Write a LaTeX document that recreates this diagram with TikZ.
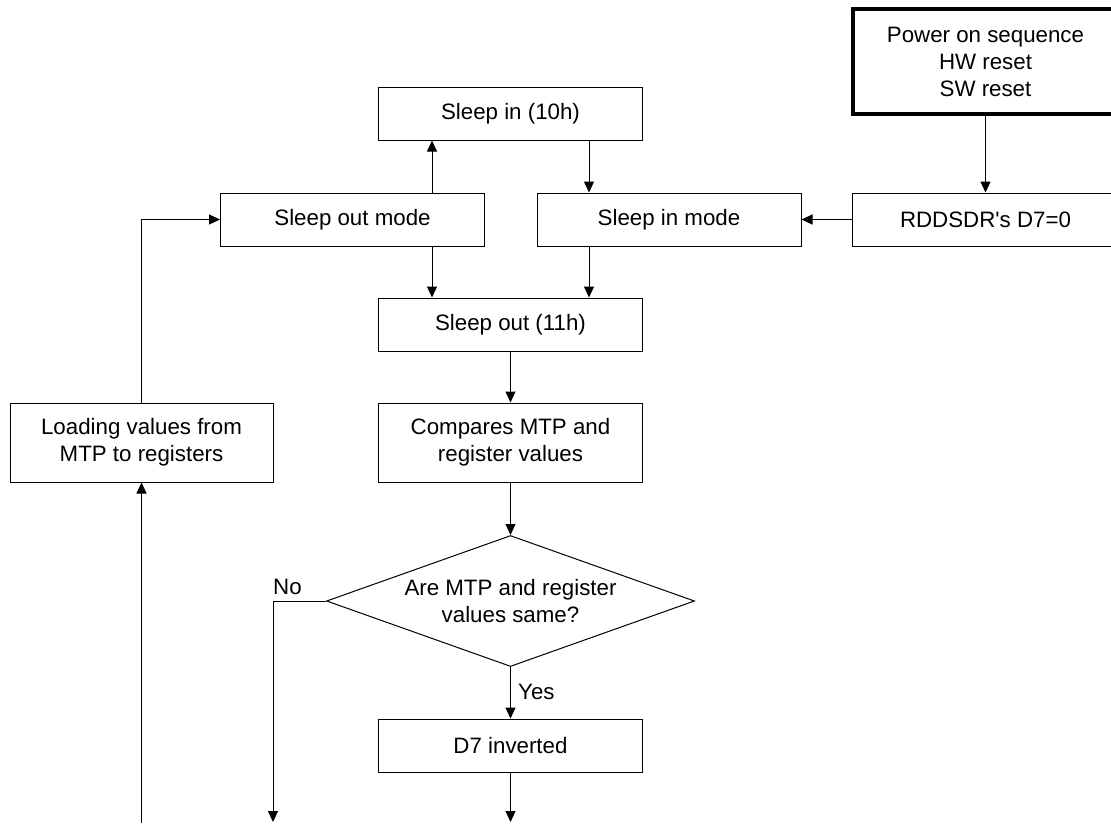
\documentclass[tikz,border=0pt]{standalone}
\usepackage{fontspec}
\setmainfont{Liberation Sans}[Ligatures=TeXOff]
\usetikzlibrary{shapes.geometric,arrows.meta}
\begin{document}
\begin{tikzpicture}[x=1pt,y=-1pt,
  every node/.style={font=\fontsize{22.3}{27}\selectfont},
  box/.style={draw, line width=1pt, minimum width=264pt, minimum height=53pt, inner sep=0pt, align=center},
  tallbox/.style={box, minimum height=79pt},
  arr/.style={line width=1pt, -{Triangle[length=11pt,width=10pt]}},
  lbl/.style={inner sep=0pt, anchor=west}]
\useasboundingbox (0,0) rectangle (1111,823);

% nodes
\node[box, line width=4pt, minimum width=266pt, minimum height=105pt] (pwr) at (985.5,61.5) {Power on sequence\\HW reset\\SW reset};
\node[box, minimum width=266pt] (rdd) at (985.5,219.5) {RDDSDR's D7=0};
\node[box] (si10) at (510.5,113.5) {Sleep in (10h)};
\node[box] (som) at (352.5,219.5) {Sleep out mode};
\node[box] (sim) at (669,219.5) {Sleep in mode};
\node[box] (so11) at (510.5,324.5) {Sleep out (11h)};
\node[tallbox] (cmp) at (510.5,442.5) {Compares MTP and\\register values};
\node[tallbox, minimum width=263pt] (ld) at (141.5,442.5) {Loading values from\\MTP to registers};
\node[diamond, draw, line width=1pt, minimum width=368pt, minimum height=131pt, inner sep=0pt, aspect=2.8] (dec) at (510.5,601) {};
\node[align=center, inner sep=0pt] (dectxt) at (dec.center) {Are MTP and register\\values same?};
\node[box] (d7) at (510.5,745.5) {D7 inverted};

% helper coordinates
\coordinate (cL) at (432,0);
\coordinate (cR) at (589,0);
\coordinate (noX) at (273,601);
\coordinate (noEnd) at (273,822);
\coordinate (d7End) at (510.5,822);
\coordinate (ldStart) at (141.5,823);

% labels
\node[lbl] (nolbl) at (273,587) {No};
\node[lbl] (yeslbl) at (518,692) {Yes};

% connectors
\draw[arr] (pwr.south) -- (rdd.north);
\draw[arr] (rdd.west) -- (sim.east);
\draw[arr] (cL |- som.north) -- (cL |- si10.south);
\draw[arr] (cR |- si10.south) -- (cR |- sim.north);
\draw[arr] (cL |- som.south) -- (cL |- so11.north);
\draw[arr] (cR |- sim.south) -- (cR |- so11.north);
\draw[arr] (so11.south) -- (cmp.north);
\draw[arr] (cmp.south) -- (dec.north);
\draw[arr] (dec.south) -- (d7.north);
\draw[arr] (d7.south) -- (d7End);
\draw[arr] (dec.west) -- (noX) -- (noEnd);
\draw[arr] (ldStart) -- (ld.south);
\draw[arr] (ld.north) |- (som.west);
\end{tikzpicture}
\end{document}
